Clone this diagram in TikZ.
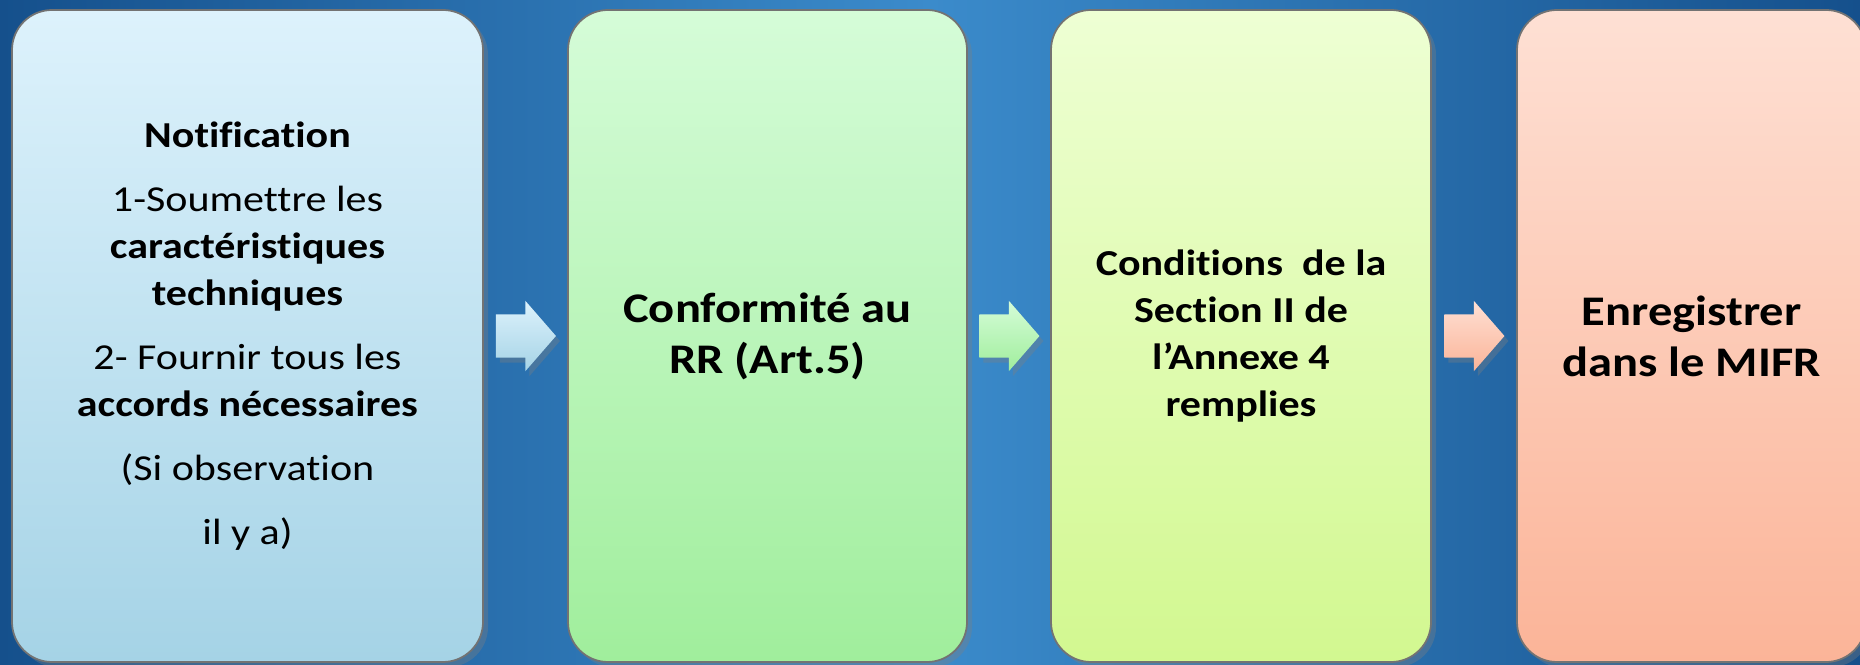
\documentclass[tikz,border=0pt]{standalone}
\usepackage{fontspec}
\setmainfont{Carlito}[FakeStretch=1.15, RawFeature=-liga]
\usetikzlibrary{positioning,calc,shapes.arrows,shadows}
\definecolor{bgDark}   {HTML}{15508C}
\definecolor{bgLight}  {HTML}{3B8BCB}
\definecolor{blueTop}  {HTML}{DDF2FC}
\definecolor{blueBot}  {HTML}{A5D3E6}
\definecolor{greenTop} {HTML}{D5FCD8}
\definecolor{greenBot} {HTML}{A0EE9C}
\definecolor{limeTop}  {HTML}{EEFFD4}
\definecolor{limeBot}  {HTML}{D2F890}
\definecolor{peachTop} {HTML}{FEE0D4}
\definecolor{peachBot} {HTML}{FBB498}
\tikzstyle{stage}  = [rectangle, rounded corners=4mm, draw=black!55, line width=0.5pt, minimum height=65.2mm, inner sep=0pt, align=center, drop shadow={opacity=0.35, shadow xshift=0.5mm, shadow yshift=-0.5mm}]
\tikzstyle{flow}   = [single arrow, draw=none, minimum height=6mm, inner xsep=0pt, inner ysep=2.1mm, single arrow head extend=1.35mm, single arrow tip angle=98, xshift=-0.9mm, drop shadow={opacity=0.35, shadow xshift=0.4mm, shadow yshift=-0.5mm}]
\tikzset{
  smalltext/.style={font=\fontsize{10.4}{13.4}\selectfont},
  smallbold/.style={font=\bfseries\fontsize{10.4}{13.4}\selectfont},
  bigtext/.style={font=\bfseries\fontsize{12}{14.5}\selectfont},
}
\begin{document}
\begin{tikzpicture}[x=1mm,y=1mm]
			\useasboundingbox (0,0) rectangle (186,66.4);
			\clip (0,0) rectangle (186,66.4);
			\shade[left color=bgDark, right color=bgDark, middle color=bgLight] (0,0) rectangle (186,66.4);
			% the four stages
			\node[stage, smalltext, minimum width=47.1mm, top color=blueTop, bottom color=blueBot] (notif) at (24.75,32.8)
				{\textbf{Notification}\\[4.8pt]
				 1-Soumettre les\\ \textbf{caractéristiques}\\ \textbf{techniques}\\[4.8pt]
				 2- Fournir tous les\\ \textbf{accords nécessaires}\\[4.8pt]
				 (Si observation\\[4.8pt] il y a)};
			\node[stage, bigtext, minimum width=39.9mm, top color=greenTop, bottom color=greenBot] (conf) at (76.75,32.8)
				{Conformité au\\ RR (Art.5)};
			\node[stage, smallbold, minimum width=38mm, top color=limeTop, bottom color=limeBot] (cond) at (124.1,32.8)
				{Conditions\ \ de la\\ Section II de\\ l’Annexe 4\\ remplies};
			\node[stage, bigtext, minimum width=34.9mm, top color=peachTop, bottom color=peachBot] (mifr) at (169.15,32.8)
				{Enregistrer\\ dans le MIFR};
			% arrows between stages
			\node[flow, top color=blueTop, bottom color=blueBot]   (arrA) at ($(notif.east)!0.5!(conf.west)$) {};
			\node[flow, top color=greenTop, bottom color=greenBot] (arrB) at ($(conf.east)!0.5!(cond.west)$) {};
			\node[flow, top color=peachTop, bottom color=peachBot] (arrC) at ($(cond.east)!0.5!(mifr.west)$) {};
		\end{tikzpicture}
\end{document}
